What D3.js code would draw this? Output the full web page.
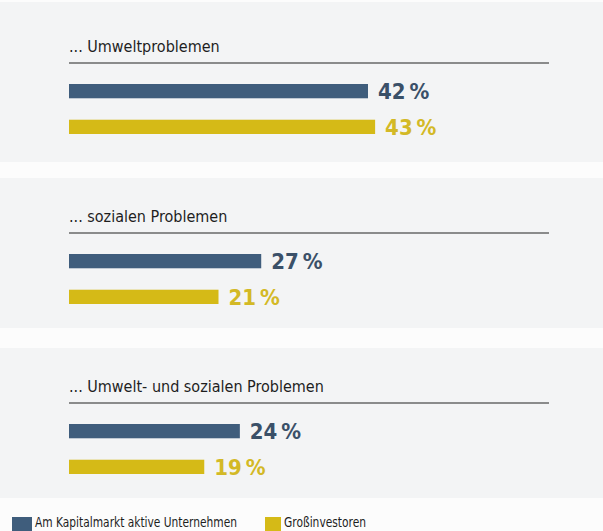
<!DOCTYPE html>
<html lang="de">
<head>
<meta charset="utf-8">
<title>Umwelt- und soziale Probleme</title>
<script src="https://d3js.org/d3.v7.min.js"></script>
<style>
body { margin: 0; background: #fcfcfc; }
svg { display: block; font-family: "DejaVu Sans Condensed", "DejaVu Sans", sans-serif; }
</style>
</head>
<body>
<div id="chart"></div>
<script>
// data
var topics = ["... Umweltproblemen", "... sozialen Problemen", "... Umwelt- und sozialen Problemen"];
var unternehmen = [42, 27, 24];
var investoren = [43, 21, 19];
var seriesNames = ["Am Kapitalmarkt aktive Unternehmen", "Großinvestoren"];

var width = 603, height = 531;
var colors = { blue: "#3f5d7c", yellow: "#d5ba17" };
var labelColors = { blue: "#3a5068", yellow: "#d3b926" };

var svg = d3.select("#chart").append("svg")
  .attr("width", width)
  .attr("height", height);

// one block per topic, ~170px apart
var y = d3.scaleBand().domain(topics).range([0, 510]).paddingInner(0);
var x = d3.scaleLinear().domain([0, 42]).range([69, 368]);

var groups = topics.map(function(t, i) {
  return { topic: t, values: [unternehmen[i], investoren[i]] };
});

var block = svg.selectAll("g.block")
  .data(groups)
  .enter().append("g")
    .attr("class", "block")
    .attr("transform", function(d) { return "translate(0," + y(d.topic) + ")"; });

// faint panel behind each block
block.append("rect")
  .attr("x", 0).attr("y", function(d, i) { return i == 0 ? 2 : 8; })
  .attr("width", width).attr("height", function(d, i) { return i == 0 ? 160 : 150; })
  .attr("fill", "#f3f4f5");

block.append("text")
  .attr("x", 69).attr("y", 52)
  .attr("font-size", 16)
  .attr("fill", "#1e1e1e")
  .text(function(d) { return d.topic; });

block.append("line")
  .attr("x1", 69).attr("x2", 549)
  .attr("y1", 63).attr("y2", 63)
  .attr("stroke", "#222").attr("stroke-width", 1.2);

var inner = d3.scaleBand().domain([0, 1]).range([84, 134]).paddingInner(0.6);

block.selectAll("rect.bar")
  .data(function(d) { return d.values; })
  .enter().append("rect")
    .attr("class", "bar")
    .attr("x", x(0))
    .attr("y", function(d, i) { return inner(i); })
    .attr("width", function(d) { return x(d) - x(0); })
    .attr("height", inner.bandwidth())
    .attr("fill", function(d, i) { return i == 0 ? colors.blue : colors.yellow; });

block.selectAll("text.val")
  .data(function(d) { return d.values; })
  .enter().append("text")
    .attr("class", "val")
    .attr("x", function(d) { return x(d) + 10; })
    .attr("y", function(d, i) { return inner(i) + inner.bandwidth() + 1; })
    .attr("font-size", 22)
    .attr("font-weight", "bold")
    .attr("fill", function(d, i) { return i == 0 ? labelColors.blue : labelColors.yellow; })
    .text(function(d) { return d + "\u2009%"; });

// legend
var legend = svg.append("g");
var legendX = [12, 265];
var legendW = [202, 82];
seriesNames.forEach(function(name, i) {
  legend.append("rect")
    .attr("x", legendX[i]).attr("y", 517)
    .attr("width", i == 0 ? 20 : 16).attr("height", 14)
    .attr("fill", i == 0 ? colors.blue : colors.yellow);
  legend.append("text")
    .attr("x", legendX[i] + (i == 0 ? 23 : 19)).attr("y", 527)
    .attr("font-size", 14.5)
    .attr("textLength", legendW[i])
    .attr("lengthAdjust", "spacingAndGlyphs")
    .attr("fill", "#1e1e1e")
    .text(name);
});
</script>
</body>
</html>
